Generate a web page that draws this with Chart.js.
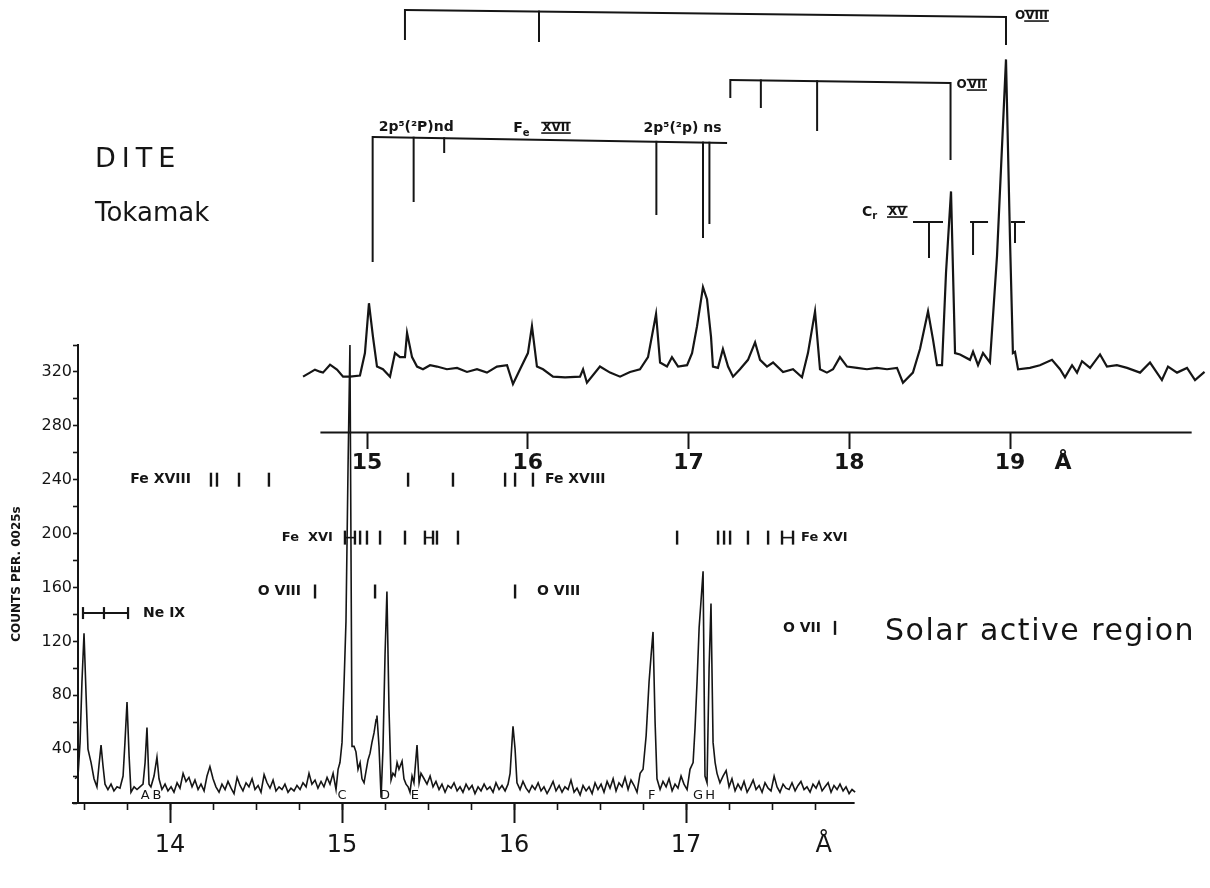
<!DOCTYPE html>
<html>
<head>
<meta charset="utf-8">
<title>DITE Tokamak and solar active region spectra</title>
<script src="https://cdn.jsdelivr.net/npm/chart.js@4.4.1/dist/chart.umd.min.js"></script>
<style>
  html, body { margin: 0; padding: 0; background: #fff; }
  #wrap { width: 1210px; height: 888px; }
</style>
</head>
<body>
<div id="wrap"><canvas id="chart" width="1210" height="888"></canvas></div>
<script>
"use strict";

const INK = "#151515";

// solar active region: [wavelength (A), counts per 0.025 s]
const solarSpectrum = [
  [13.448,18],[13.465,20],[13.477,45],[13.488,90],[13.500,126],[13.512,80],[13.523,40],[13.541,30],
  [13.558,18],[13.575,12],[13.587,28],[13.599,43],[13.610,28],[13.622,14],[13.639,10],[13.657,14],
  [13.674,9],[13.692,12],[13.709,11],[13.727,20],[13.738,45],[13.750,75],[13.762,35],[13.773,8],
  [13.791,12],[13.808,10],[13.825,12],[13.843,14],[13.855,30],[13.866,56],[13.878,14],[13.889,12],
  [13.907,20],[13.924,34],[13.936,18],[13.953,10],
  [13.971,14],[13.988,9],[14.006,12],[14.023,8],[14.041,15],[14.058,11],[14.076,22],[14.093,16],
  [14.110,19],[14.128,12],[14.145,17],[14.163,10],[14.180,14],[14.198,9],[14.215,20],[14.232,27],
  [14.250,18],[14.267,12],[14.285,8],[14.302,14],[14.320,10],[14.337,16],[14.355,11],[14.372,7],
  [14.390,19],[14.407,13],[14.424,9],[14.442,15],[14.459,12],[14.477,18],[14.494,10],[14.512,13],
  [14.529,8],[14.547,21],[14.564,15],[14.581,11],[14.599,17],[14.616,9],[14.634,12],[14.651,10],
  [14.668,14],[14.686,8],[14.703,11],[14.721,9],[14.738,13],[14.756,10],[14.773,15],[14.791,12],
  [14.808,22],[14.825,14],[14.843,17],[14.860,11],[14.878,16],[14.895,12],[14.913,19],[14.930,14],
  [14.948,22],[14.965,10],
  [14.977,25],[14.988,30],[15.000,45],[15.012,90],[15.023,135],[15.035,250],[15.046,340],[15.058,42],
  [15.070,42],[15.081,38],[15.093,25],[15.105,30],[15.116,18],[15.128,15],[15.140,24],[15.151,32],
  [15.163,37],[15.174,45],[15.186,52],[15.198,62],[15.203,65],[15.215,42],[15.227,4],[15.238,40],
  [15.250,110],[15.261,157],[15.273,70],[15.285,17],[15.296,22],[15.308,20],[15.320,30],[15.331,25],
  [15.349,31],[15.360,18],[15.372,14],[15.384,12],[15.395,8],[15.407,20],[15.418,15],[15.436,43],
  [15.448,15],[15.459,22],[15.477,18],[15.494,14],[15.512,20],[15.529,12],[15.546,16],[15.564,10],
  [15.581,14],[15.599,8],[15.616,13],[15.634,11],[15.651,15],[15.669,9],[15.686,12],[15.703,8],
  [15.721,14],[15.738,10],[15.756,13],[15.773,7],[15.791,12],[15.808,9],[15.826,14],[15.843,10],
  [15.860,12],[15.878,8],[15.895,15],[15.913,10],[15.930,13],[15.948,9],[15.965,14],[15.977,22],
  [15.988,45],[15.994,57],[16.006,40],[16.017,15],[16.035,10],[16.052,16],[16.070,11],[16.087,8],
  [16.105,13],[16.122,10],[16.140,15],[16.157,9],[16.174,12],[16.192,7],[16.209,11],[16.227,16],
  [16.244,9],[16.262,13],[16.279,8],[16.296,12],[16.314,10],[16.331,17],[16.349,8],[16.366,11],
  [16.384,6],[16.401,13],[16.419,9],[16.436,12],[16.454,7],[16.471,15],[16.488,10],[16.506,14],
  [16.523,8],[16.541,16],[16.558,11],[16.576,18],[16.593,9],[16.610,15],[16.628,12],[16.645,19],
  [16.663,10],[16.680,17],[16.698,13],[16.715,8],[16.733,22],[16.750,25],[16.768,50],[16.785,90],
  [16.797,110],[16.808,127],[16.820,60],[16.831,18],[16.849,10],[16.866,16],[16.884,12],[16.901,18],
  [16.919,9],[16.936,14],[16.953,11],[16.971,20],[16.988,14],[17.006,10],[17.023,25],[17.041,30],
  [17.052,55],[17.064,90],[17.076,130],[17.087,150],[17.099,172],[17.110,20],[17.122,15],[17.134,100],
  [17.145,148],[17.157,45],[17.169,30],[17.180,22],[17.197,15],[17.215,20],[17.233,24],[17.250,12],
  [17.267,18],[17.285,9],[17.302,14],[17.320,10],[17.337,16],[17.355,8],[17.372,12],[17.390,17],
  [17.407,10],[17.425,13],[17.442,8],[17.459,15],[17.477,11],[17.494,9],[17.512,20],[17.529,12],
  [17.546,8],[17.564,14],[17.581,11],[17.599,10],[17.616,15],[17.634,9],[17.651,13],[17.668,16],
  [17.686,10],[17.703,12],[17.721,8],[17.738,14],[17.756,11],[17.773,16],[17.791,9],[17.808,12],
  [17.826,15],[17.843,8],[17.860,13],[17.878,10],[17.895,14],[17.913,9],[17.930,12],[17.948,7],
  [17.965,10],[17.983,8]
];

// DITE tokamak: [wavelength (A), intensity above its own baseline]
const tokamakSpectrum = [
  [14.602,-1.5],[14.645,1.5],[14.676,3.7],[14.707,2.2],[14.726,1.5],[14.770,7.4],[14.813,3.7],[14.851,-1.5],
  [14.894,-1.5],[14.956,-0.7],[14.987,16],[15.012,53],[15.037,28],[15.062,6],[15.099,4],[15.143,-1.5],
  [15.174,16],[15.205,13],[15.236,13],[15.249,31],[15.280,13],[15.311,6],[15.348,4],[15.392,7],
  [15.435,6],[15.497,4],[15.560,5],[15.622,2],[15.684,4],[15.746,1.5],[15.808,6],[15.871,7],
  [15.908,-7],[15.952,4],[16.001,16],[16.026,36],[16.057,6],[16.095,4],[16.157,-1.5],[16.232,-2],
  [16.325,-1.5],[16.344,4],[16.368,-6],[16.449,6],[16.512,1.5],[16.574,-1.5],[16.636,2],[16.698,4],
  [16.748,13],[16.798,45],[16.823,9],[16.866,6],[16.897,13],[16.935,6],[16.991,7],[17.022,16],
  [17.053,36],[17.090,65],[17.115,56],[17.140,28],[17.152,6],[17.183,5],[17.214,19],[17.246,6],
  [17.277,-1.5],[17.320,4],[17.370,11],[17.414,24],[17.445,11],[17.488,6],[17.526,9],[17.588,2],
  [17.650,4],[17.706,-2],[17.743,16],[17.787,47],[17.818,4],[17.861,1.5],[17.899,4],[17.942,13],
  [17.986,6],[18.048,5],[18.110,4],[18.172,5],[18.235,4],[18.297,5],[18.334,-6],[18.396,1.5],
  [18.440,19],[18.490,47],[18.521,26],[18.546,7],[18.577,7],[18.602,76],[18.633,136],[18.658,16],
  [18.689,15],[18.751,11],[18.770,17],[18.801,7],[18.832,16],[18.875,9],[18.919,88],[18.975,234],
  [19.000,100],[19.018,16],[19.031,17],[19.050,4],[19.124,5],[19.186,7],[19.261,11],[19.311,4],
  [19.342,-2],[19.386,7],[19.417,1.5],[19.448,10],[19.498,5],[19.560,15],[19.603,6],[19.665,7],
  [19.728,5],[19.809,1.5],[19.871,9],[19.945,-4],[19.983,6],[20.039,1.5],[20.101,5],[20.151,-4],
  [20.210,2]
];

// axes
const solarMajorTicks = [14, 15, 16, 17];
const solarMinorTicks = [13.5, 13.75, 14, 14.25, 14.5, 14.75, 15, 15.25, 15.5, 15.75, 16, 16.25, 16.5, 16.75, 17, 17.25, 17.5, 17.75];
const solarUnitAt = 17.8;
const tokamakTicks = [15, 16, 17, 18, 19];
const tokamakUnitAt = 19.33;
const countTicks = [0, 20, 40, 60, 80, 100, 120, 140, 160, 180, 200, 220, 240, 260, 280, 300, 320, 340];
const countLabels = [40, 80, 120, 160, 200, 240, 280, 320];
const solarAxisSpan = [13.43, 17.98];
const tokamakAxisSpan = [14.71, 20.13];
const tokamakAxisLevel = 275;

// line identifications, tokamak (upper) spectrum
const tokOVIII = [15.236, 16.07, 18.975];
const tokOVII = [17.26, 17.45, 17.80, 18.63];
const tokFeXVII = [15.035, 15.29, 15.48, 16.80, 17.09, 17.13];
const tokFeXVIIEnd = 17.24;
const tokCrXV = [18.496, 18.77, 19.031];

// line identifications, solar (lower) spectrum
const solFeXVIII = [14.238, 14.273, 14.401, 14.575, 15.384, 15.645, 15.948, 16.006, 16.11];
const solFeXVI = [15.105, 15.145, 15.221, 15.366, 15.552, 15.674, 16.948, 17.186, 17.221, 17.256, 17.36, 17.477];
const solFeXVIPairs = [[15.017, 15.075], [15.482, 15.529], [17.558, 17.622]];
const solOVIII = [14.843, 15.192, 16.006];
const solOVII = [17.866];
const solNeIX = [13.494, 13.616, 13.756];
const lineLetters = ["A", "B", "C", "D", "E", "F", "G", "H"];
const letterWl = [13.855, 13.924, 15.0, 15.25, 15.424, 16.8, 17.07, 17.14];
// row heights of the solar identification rows, in counts
const rowLevel = { feXVIII: 240, feXVI: 197, oVIII: 157, neIX: 141, oVII: 130 };

const SOLAR_MIN = 13.465, SOLAR_MAX = 20.017;
const TOK_MIN = 13.202, TOK_MAX = 20.213;

const lineIds = {
  id: "lineIds",
  afterDatasetsDraw(chart) {
    const ctx = chart.ctx;
    const xs = chart.scales.x, xt = chart.scales.x2, ys = chart.scales.y;
    const px = v => xs.getPixelForValue(v);
    const pt = v => xt.getPixelForValue(v);
    const py = v => ys.getPixelForValue(v);
    const bold = s => "bold " + s + "px DejaVu Sans";

    ctx.save();
    ctx.strokeStyle = INK;
    ctx.fillStyle = INK;

    function seg(x1, y1, x2, y2, w) {
      ctx.lineWidth = w || 2;
      ctx.beginPath();
      ctx.moveTo(x1, y1);
      ctx.lineTo(x2, y2);
      ctx.stroke();
    }
    function txt(s, x, y, font, align) {
      ctx.font = font;
      ctx.textAlign = align || "left";
      ctx.textBaseline = "middle";
      ctx.fillText(s, x, y);
      return ctx.measureText(s).width;
    }
    // roman numeral with bars above and below
    function roman(s, x, y, size) {
      const w = txt(s, x, y, bold(size), "left");
      seg(x - 1, y - size * 0.45, x + w + 1, y - size * 0.45, 1.6);
      seg(x - 1, y + size * 0.42, x + w + 1, y + size * 0.42, 1.6);
      return w;
    }

    // axis lines
    seg(px(solarAxisSpan[0]), py(0), px(solarAxisSpan[1]), py(0), 2);
    seg(pt(tokamakAxisSpan[0]), py(tokamakAxisLevel), pt(tokamakAxisSpan[1]), py(tokamakAxisLevel), 2);

    // titles
    ctx.letterSpacing = "6px";
    txt("DITE", 95, 160, "27px DejaVu Sans");
    ctx.letterSpacing = "0px";
    txt("Tokamak", 95, 214, "26px DejaVu Sans");
    ctx.letterSpacing = "1.5px";
    txt("Solar active region", 885, 632, "30px DejaVu Sans");
    ctx.letterSpacing = "0px";

    // tokamak brackets
    function bracket(lines, yL, yR, drops, endWl) {
      const xa = pt(lines[0]);
      const xb = pt(endWl === undefined ? lines[lines.length - 1] : endWl);
      seg(xa, yL, xb, yR, 2);
      const yAt = x => yL + (yR - yL) * (x - xa) / (xb - xa);
      lines.forEach((w, i) => seg(pt(w), yAt(pt(w)) - 1, pt(w), drops[i], 2));
    }
    bracket(tokOVIII, 10, 17, [40, 42, 45]);
    let lx = pt(tokOVIII[2]) + 9;
    lx += txt("O", lx, 16, bold(12));
    roman("VIII", lx, 16, 12);

    bracket(tokOVII, 80, 83, [98, 108, 131, 160]);
    lx = pt(tokOVII[3]) + 6;
    lx += txt("O", lx, 85, bold(12));
    roman("VII", lx + 1, 85, 12);

    bracket(tokFeXVII, 137, 143, [262, 202, 153, 215, 238, 224], tokFeXVIIEnd);
    txt("2p\u2075(\u00b2P)nd", pt(tokFeXVII[0]) + 6, 127, bold(14));
    lx = pt(15.91);
    lx += txt("F", lx, 128, bold(14));
    txt("e", lx, 133, bold(10));
    roman("XVII", pt(16.09), 128, 12);
    txt("2p\u2075(\u00b2p) ns", pt(16.72), 128, bold(14));

    // Cr XV marks
    const c0 = pt(tokCrXV[0]), c1 = pt(tokCrXV[1]), c2 = pt(tokCrXV[2]);
    lx = c0 - 67;
    lx += txt("C", lx, 212, bold(14));
    txt("r", lx, 216, bold(10));
    roman("XV", c0 - 41, 212, 12);
    seg(c0 - 16, 222, c0 + 14, 222, 2);
    seg(c0, 222, c0, 258, 2);
    seg(c1 - 3, 222, c1 + 15, 222, 2);
    seg(c1, 222, c1, 255, 2);
    seg(c2 - 4, 222, c2 + 10, 222, 2);
    seg(c2, 222, c2, 243, 2);

    // solar identification rows
    const tickH = 7;
    function ticks(list, level) {
      for (const w of list) seg(px(w), py(level) - tickH, px(w), py(level) + tickH, 2.4);
    }
    ticks(solFeXVIII, rowLevel.feXVIII);
    txt("Fe XVIII", px(solFeXVIII[0]) - 20, py(rowLevel.feXVIII), bold(14), "right");
    txt("Fe XVIII", px(solFeXVIII[8]) + 12, py(rowLevel.feXVIII), bold(14));

    ticks(solFeXVI, rowLevel.feXVI);
    for (const p of solFeXVIPairs) {
      ticks(p, rowLevel.feXVI);
      seg(px(p[0]), py(rowLevel.feXVI), px(p[1]), py(rowLevel.feXVI), 1.6);
    }
    txt("Fe  XVI", px(solFeXVIPairs[0][0]) - 12, py(rowLevel.feXVI), bold(13), "right");
    txt("Fe XVI", px(solFeXVIPairs[2][1]) + 8, py(rowLevel.feXVI), bold(13));

    ticks(solOVIII, rowLevel.oVIII);
    txt("O VIII", px(solOVIII[0]) - 14, py(rowLevel.oVIII), bold(14), "right");
    txt("O VIII", px(solOVIII[2]) + 22, py(rowLevel.oVIII), bold(14));

    ticks(solOVII, rowLevel.oVII);
    txt("O VII", px(solOVII[0]) - 14, py(rowLevel.oVII), bold(14), "right");

    // Ne IX bracket
    const ny = py(rowLevel.neIX);
    seg(px(solNeIX[0]), ny, px(solNeIX[2]), ny, 2);
    for (const w of solNeIX) seg(px(w), ny - 6, px(w), ny + 6, 2.2);
    txt("Ne IX", px(solNeIX[2]) + 15, ny, bold(14));

    // letters under the solar lines
    lineLetters.forEach((s, i) => txt(s, px(letterWl[i]), py(0) - 7, "13px DejaVu Sans", "center"));

    ctx.restore();
  }
};

const chart = new Chart(document.getElementById("chart"), {
  type: "line",
  data: {
    datasets: [
      {
        label: "Solar active region",
        data: solarSpectrum.map(p => ({ x: p[0], y: p[1] })),
        xAxisID: "x",
        yAxisID: "y",
        borderColor: INK,
        borderWidth: 1.6,
        pointRadius: 0,
        tension: 0,
        clip: 6
      },
      {
        label: "DITE Tokamak",
        data: tokamakSpectrum.map(p => ({ x: p[0], y: p[1] })),
        xAxisID: "x2",
        yAxisID: "yt",
        borderColor: INK,
        borderWidth: 2.2,
        pointRadius: 0,
        tension: 0,
        clip: false
      }
    ]
  },
  options: {
    responsive: false,
    animation: false,
    layout: { padding: { top: 345, right: 5, left: 0, bottom: 0 } },
    plugins: { legend: { display: false }, tooltip: { enabled: false } },
    scales: {
      x: {
        type: "linear", axis: "x", position: "bottom", min: SOLAR_MIN, max: SOLAR_MAX,
        afterFit: s => { s.height = 85; },
        afterBuildTicks: s => { s.ticks = solarMajorTicks.concat([solarUnitAt]).map(v => ({ value: v })); },
        border: { display: false },
        grid: {
          drawOnChartArea: false, tickLength: 20, tickWidth: 2,
          tickColor: c => (c.tick && c.tick.value === solarUnitAt) ? "rgba(0,0,0,0)" : INK
        },
        ticks: {
          autoSkip: false, maxRotation: 0, padding: 8, color: INK,
          font: { family: "DejaVu Sans", size: 24 },
          callback: v => v === solarUnitAt ? "\u00c5" : String(v)
        }
      },
      xm: {
        type: "linear", axis: "x", position: { y: 0 }, min: SOLAR_MIN, max: SOLAR_MAX,
        afterBuildTicks: s => { s.ticks = solarMinorTicks.map(v => ({ value: v })); },
        border: { display: false },
        grid: { drawOnChartArea: false, tickLength: 7, tickWidth: 1.6, tickColor: INK },
        ticks: { autoSkip: false, maxRotation: 0, callback: () => "" }
      },
      x2: {
        type: "linear", axis: "x", position: { y: tokamakAxisLevel }, min: TOK_MIN, max: TOK_MAX,
        afterBuildTicks: s => { s.ticks = tokamakTicks.concat([tokamakUnitAt]).map(v => ({ value: v })); },
        border: { display: false },
        grid: {
          drawOnChartArea: false, tickLength: 16, tickWidth: 2,
          tickColor: c => (c.tick && c.tick.value === tokamakUnitAt) ? "rgba(0,0,0,0)" : INK
        },
        ticks: {
          autoSkip: false, maxRotation: 0, padding: 2, color: INK,
          font: { family: "DejaVu Sans", size: 22, weight: "bold" },
          callback: v => v === tokamakUnitAt ? "\u00c5" : String(v)
        }
      },
      y: {
        type: "linear", position: "left", min: 0, max: 340,
        afterFit: s => { s.width = 78; },
        afterBuildTicks: s => { s.ticks = countTicks.map(v => ({ value: v })); },
        border: { display: true, color: INK, width: 2 },
        grid: { drawOnChartArea: false, tickLength: 5, tickWidth: 1.6, tickColor: INK },
        ticks: {
          autoSkip: false, padding: 1, color: INK,
          font: { family: "DejaVu Sans", size: 16 },
          callback: v => countLabels.includes(v) ? String(v) : ""
        },
        title: {
          display: true, text: "COUNTS PER. 0025s", color: INK,
          font: { family: "DejaVu Sans", size: 12, weight: "bold" },
          padding: { top: 10, bottom: 0 }
        }
      },
      yt: { type: "linear", axis: "y", display: false, min: -318, max: 22 }
    }
  },
  plugins: [lineIds]
});
</script>
</body>
</html>
